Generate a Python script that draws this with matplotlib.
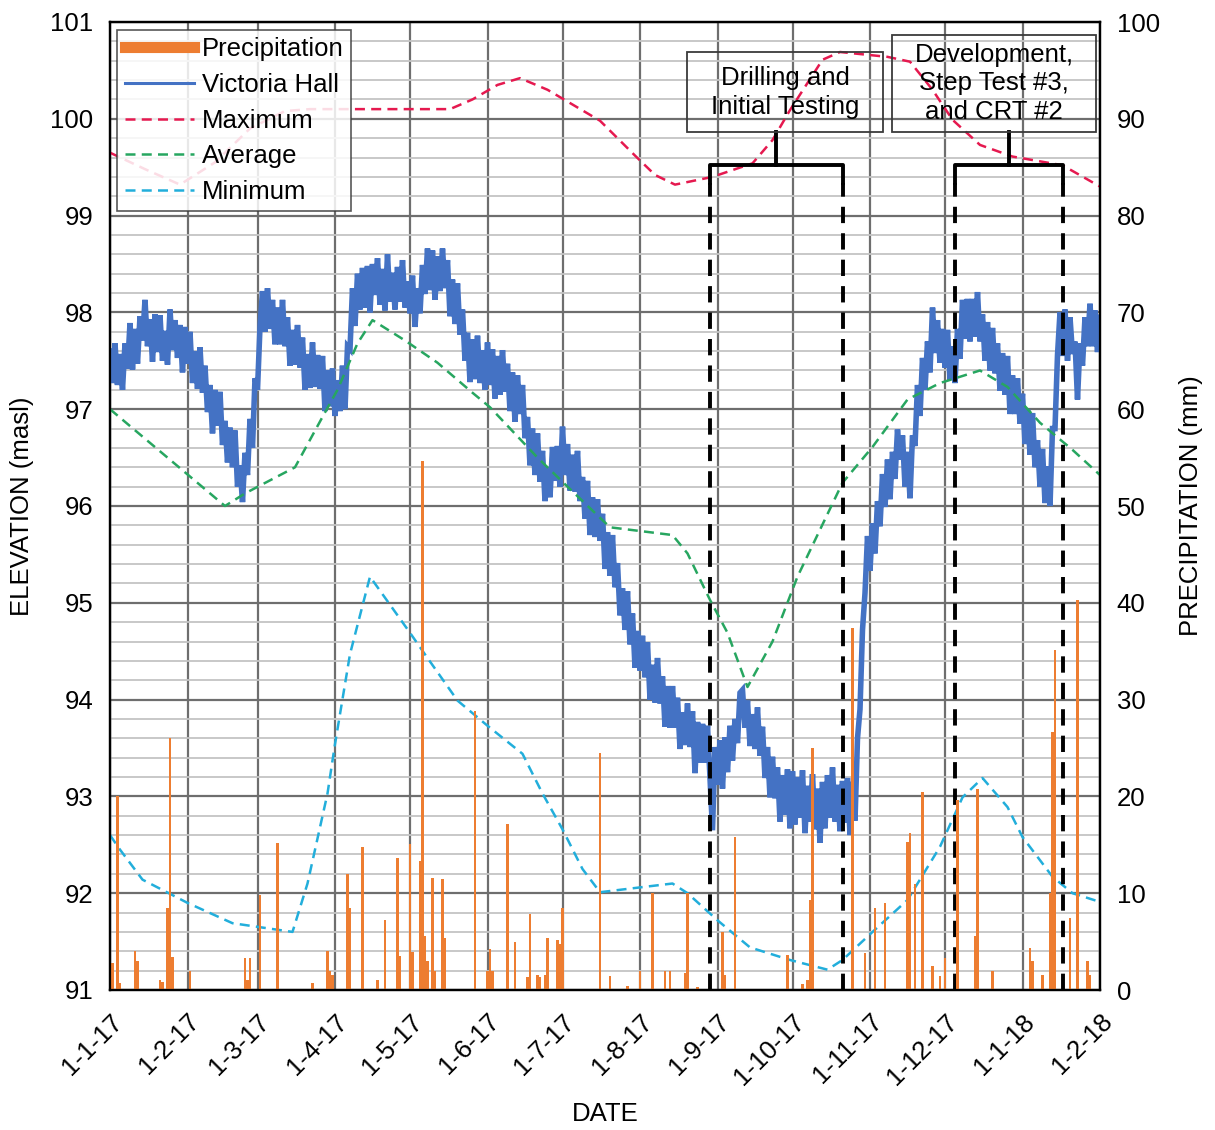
import datetime as dt

import matplotlib
matplotlib.use("Agg")
import matplotlib.pyplot as plt
import matplotlib.dates as mdates
import pandas as pd
from matplotlib.lines import Line2D
from matplotlib.patches import Rectangle
from matplotlib.ticker import MultipleLocator

plt.rcParams["font.family"] = ["Liberation Sans", "DejaVu Sans"]

# ---------------------------------------------------------------- data
# Victoria Hall groundwater elevation (masl), one value per day from 1 Jan 2017
VH_START = "2017-01-01"
VH_LEVEL = [
    # Jan 2017
    97.60, 97.27, 97.68, 97.25, 97.57, 97.20, 97.68, 97.42, 97.89, 97.41,
    97.83, 97.47, 97.96, 97.71, 98.13, 97.65, 97.93, 97.49, 97.98, 97.59,
    97.97, 97.50, 97.81, 97.46, 98.03, 97.61, 97.92, 97.53, 97.87, 97.38,
    97.85,
    # Feb
    97.47, 97.80, 97.27, 97.60, 97.21, 97.64, 97.17, 97.45, 96.97, 97.25,
    96.75, 97.20, 96.83, 97.18, 96.63, 96.88, 96.45, 96.81, 96.40, 96.78,
    96.20, 96.42, 96.04, 96.55, 96.32, 96.90, 96.60, 97.32,
    # Mar
    97.20, 97.85, 98.22, 97.80, 98.25, 97.83, 98.13, 97.67, 98.05, 97.67,
    98.13, 97.65, 97.95, 97.45, 97.82, 97.46, 97.87, 97.43, 97.74, 97.20,
    97.57, 97.22, 97.69, 97.23, 97.56, 97.21, 97.55, 96.98, 97.40, 97.03,
    97.42,
    # Apr
    96.93, 97.30, 96.98, 97.45, 97.00, 97.65, 97.62, 98.25, 97.86, 98.40,
    98.03, 98.46, 98.05, 98.48, 98.00, 98.50, 98.18, 98.56, 98.08, 98.45,
    98.02, 98.60, 98.11, 98.41, 98.03, 98.47, 98.11, 98.54, 98.05, 98.32,
    # May
    97.99, 98.38, 97.85, 98.25, 97.99, 98.49, 98.19, 98.66, 98.23, 98.64,
    98.13, 98.58, 98.22, 98.66, 98.25, 98.54, 97.96, 98.34, 97.88, 98.30,
    97.77, 98.03, 97.50, 97.79, 97.28, 97.72, 97.31, 97.76, 97.27, 97.61,
    97.20,
    # Jun
    97.69, 97.25, 97.62, 97.11, 97.55, 97.15, 97.61, 97.18, 97.47, 96.98,
    97.38, 96.87, 97.35, 96.95, 97.25, 96.70, 96.92, 96.42, 96.80, 96.32,
    96.75, 96.25, 96.57, 96.05, 96.40, 96.09, 96.61, 96.26, 96.62, 96.20,
    # Jul
    96.82, 96.32, 96.64, 96.16, 96.53, 96.15, 96.57, 96.05, 96.30, 95.87,
    96.26, 95.70, 96.09, 95.68, 96.07, 95.64, 95.92, 95.35, 95.73, 95.28,
    95.70, 95.16, 95.41, 94.87, 95.15, 94.72, 95.12, 94.57, 94.89, 94.33,
    94.71,
    # Aug
    94.30, 94.66, 94.23, 94.59, 94.00, 94.36, 93.97, 94.43, 93.96, 94.24,
    93.72, 94.14, 93.71, 94.14, 93.71, 94.02, 93.49, 93.87, 93.53, 93.96,
    93.51, 93.88, 93.24, 93.77, 93.35, 93.75, 93.35, 93.73, 93.20, 92.65,
    93.51,
    # Sep
    93.12, 93.58, 93.08, 93.61, 93.25, 93.73, 93.37, 93.80, 93.55, 94.07,
    94.10, 93.71, 93.99, 93.52, 93.85, 93.49, 93.92, 93.42, 93.72, 93.19,
    93.51, 92.99, 93.41, 92.98, 93.30, 92.74, 93.22, 92.81, 93.28, 92.67,
    # Oct
    93.26, 92.71, 93.20, 92.78, 93.27, 92.62, 93.11, 92.74, 93.23, 92.66,
    93.08, 92.52, 93.15, 92.67, 93.22, 92.78, 93.30, 92.74, 93.12, 92.64,
    93.16, 92.73, 93.19, 92.60, 93.15, 92.75, 93.60, 93.90, 94.72, 95.10,
    95.69,
    # Nov
    95.33, 95.82, 95.51, 96.05, 95.79, 96.33, 95.99, 96.48, 96.07, 96.56,
    96.28, 96.79, 96.48, 96.73, 96.20, 96.56, 96.08, 96.73, 96.62, 97.25,
    96.93, 97.53, 97.20, 97.70, 97.38, 98.05, 97.58, 97.92, 97.48, 97.83,
    # Dec
    97.43, 97.82, 97.30, 97.65, 97.27, 97.83, 97.52, 98.13, 97.73, 98.14,
    97.70, 98.14, 97.75, 98.21, 97.70, 97.98, 97.50, 97.90, 97.40, 97.84,
    97.37, 97.68, 97.19, 97.58, 97.15, 97.55, 96.95, 97.35, 96.95, 97.32,
    96.85,
    # Jan 2018 + 1 Feb 2018
    97.16, 96.64, 97.00, 96.53, 96.96, 96.40, 96.68, 96.20, 96.59, 96.03,
    96.41, 96.00, 96.80, 96.80, 97.56, 98.00, 97.55, 98.03, 97.50, 97.95,
    97.57, 97.70, 97.10, 97.68, 97.45, 97.95, 97.65, 98.09, 97.65, 98.02,
    97.59, 97.95,
]

# Historical statistics of the monitoring record (masl)
MAX_DATES = ["2017-01-01", "2017-01-15", "2017-01-29", "2017-02-12", "2017-02-26",
             "2017-03-12", "2017-03-22", "2017-05-17", "2017-05-26", "2017-06-05",
             "2017-06-14", "2017-06-25", "2017-07-16", "2017-07-30", "2017-08-07",
             "2017-08-15", "2017-08-30", "2017-09-15", "2017-09-23", "2017-09-30",
             "2017-10-07", "2017-10-13", "2017-10-20", "2017-11-08", "2017-11-17",
             "2017-11-26", "2017-12-04", "2017-12-15", "2017-12-28", "2018-01-17",
             "2018-02-01"]
MAX_LEVEL = [99.65, 99.48, 99.32, 99.55, 99.90, 100.08, 100.10, 100.10, 100.20, 100.35,
             100.42, 100.30, 99.98, 99.62, 99.42, 99.32, 99.40, 99.54, 99.78, 100.09,
             100.37, 100.61, 100.69, 100.64, 100.59, 100.30, 99.99, 99.73, 99.61, 99.52,
             99.30]

AVG_DATES = ["2017-01-01", "2017-02-16", "2017-02-24", "2017-03-16", "2017-03-27",
             "2017-04-02", "2017-04-10", "2017-04-16", "2017-04-29", "2017-05-12",
             "2017-05-26", "2017-06-02", "2017-06-21", "2017-07-03", "2017-07-20",
             "2017-08-14", "2017-08-20", "2017-08-29", "2017-09-05", "2017-09-13",
             "2017-09-23", "2017-10-03", "2017-10-21", "2017-11-02", "2017-11-16",
             "2017-11-29", "2017-12-15", "2017-12-26", "2018-01-08", "2018-01-21",
             "2018-02-01"]
AVG_LEVEL = [97.00, 96.00, 96.13, 96.40, 96.92, 97.20, 97.68, 97.92, 97.71, 97.48,
             97.17, 97.02, 96.50, 96.20, 95.78, 95.70, 95.51, 95.03, 94.69, 94.13,
             94.60, 95.27, 96.24, 96.61, 97.10, 97.27, 97.40, 97.23, 96.86, 96.58,
             96.32]

MIN_DATES = ["2017-01-01", "2017-01-05", "2017-01-14", "2017-02-01", "2017-02-19",
             "2017-03-15", "2017-03-21", "2017-03-29", "2017-04-01", "2017-04-07",
             "2017-04-15", "2017-05-01", "2017-05-08", "2017-05-20", "2017-06-01",
             "2017-06-15", "2017-06-23", "2017-07-01", "2017-07-09", "2017-07-16",
             "2017-08-01", "2017-08-14", "2017-08-20", "2017-09-01", "2017-09-14",
             "2017-09-30", "2017-10-15", "2017-10-21", "2017-11-02", "2017-11-16",
             "2017-11-29", "2017-12-08", "2017-12-16", "2017-12-26", "2018-01-01",
             "2018-01-13", "2018-01-21", "2018-02-01"]
MIN_LEVEL = [92.60, 92.45, 92.14, 91.90, 91.69, 91.60, 92.10, 93.03, 93.54, 94.47,
             95.27, 94.69, 94.43, 93.99, 93.73, 93.44, 93.03, 92.66, 92.25, 92.01,
             92.06, 92.10, 92.00, 91.72, 91.44, 91.31, 91.21, 91.31, 91.60, 91.93,
             92.48, 92.99, 93.19, 92.89, 92.58, 92.17, 92.00, 91.91]

# Daily precipitation (mm); days without rain are omitted
RAIN_DATES = ["2017-01-02", "2017-01-04", "2017-01-05", "2017-01-11", "2017-01-12",
              "2017-01-21", "2017-01-22", "2017-01-24", "2017-01-25", "2017-01-26",
              "2017-02-02", "2017-02-24", "2017-02-25", "2017-02-26", "2017-03-02",
              "2017-03-09", "2017-03-23", "2017-03-29", "2017-03-30", "2017-03-31",
              "2017-04-06", "2017-04-07", "2017-04-12", "2017-04-18", "2017-04-21",
              "2017-04-26", "2017-04-27", "2017-05-01", "2017-05-02", "2017-05-05",
              "2017-05-06", "2017-05-07", "2017-05-08", "2017-05-10", "2017-05-11",
              "2017-05-14", "2017-05-15", "2017-05-27", "2017-06-01", "2017-06-02",
              "2017-06-03", "2017-06-09", "2017-06-12", "2017-06-17", "2017-06-18",
              "2017-06-21", "2017-06-22", "2017-06-24", "2017-06-25", "2017-06-29",
              "2017-06-30", "2017-07-01", "2017-07-16", "2017-07-20", "2017-07-27",
              "2017-08-01", "2017-08-06", "2017-08-11", "2017-08-13", "2017-08-19",
              "2017-08-20", "2017-08-24", "2017-09-03", "2017-09-04", "2017-09-08",
              "2017-09-29", "2017-10-05", "2017-10-07", "2017-10-08", "2017-10-09",
              "2017-10-25", "2017-10-30", "2017-11-03", "2017-11-07", "2017-11-16",
              "2017-11-17", "2017-11-19", "2017-11-22", "2017-11-26", "2017-11-29",
              "2017-12-01", "2017-12-06", "2017-12-13", "2017-12-14", "2017-12-20",
              "2018-01-04", "2018-01-05", "2018-01-09", "2018-01-12", "2018-01-13",
              "2018-01-14", "2018-01-20", "2018-01-23", "2018-01-27", "2018-01-28"]
RAIN_MM = [2.8, 20.0, 0.7, 4.0, 3.0,
           1.0, 0.8, 8.5, 26.0, 3.4,
           2.0, 3.3, 1.0, 3.3, 9.8,
           15.2, 0.7, 4.0, 2.0, 1.5,
           12.0, 8.5, 14.8, 1.0, 7.2,
           13.6, 3.5, 15.1, 3.9, 13.3,
           54.6, 5.6, 3.0, 11.6, 2.0,
           11.5, 5.4, 28.8, 2.0, 4.2,
           2.0, 17.1, 5.0, 1.3, 7.9,
           1.5, 1.3, 1.6, 5.4, 5.2,
           4.8, 8.5, 24.5, 1.4, 0.4,
           2.0, 10.0, 2.0, 2.0, 1.8,
           10.0, 0.3, 6.0, 1.5, 15.8,
           3.6, 0.6, 1.0, 9.3, 25.0,
           37.4, 3.8, 8.5, 9.0, 15.3,
           16.2, 11.0, 20.5, 2.5, 1.4,
           3.3, 19.6, 5.6, 20.8, 2.0,
           4.3, 3.0, 1.6, 10.0, 26.7,
           35.1, 7.4, 40.3, 3.0, 1.6]

# Field activity periods (start, end) and their captions
PERIODS = [("2017-08-29", "2017-10-21"), ("2017-12-05", "2018-01-17")]
PERIOD_LABELS = ["Drilling and\nInitial Testing", "Development,\nStep Test #3,\nand CRT #2"]

TICK_DATES = pd.date_range("2017-01-01", "2018-02-01", freq="MS")
TICK_LABELS = ["1-1-17", "1-2-17", "1-3-17", "1-4-17", "1-5-17", "1-6-17", "1-7-17",
               "1-8-17", "1-9-17", "1-10-17", "1-11-17", "1-12-17", "1-1-18", "1-2-18"]

# ---------------------------------------------------------------- styles
C_RAIN = "#ED7D31"
C_VH = "#4472C4"
C_MAX = "#E5194F"
C_AVG = "#27A660"
C_MIN = "#22AEDB"
FS = 18.5

fig = plt.figure(figsize=(12.15, 11.3), dpi=100)
ax = fig.add_axes([110 / 1215, 1 - 990 / 1130, 990 / 1215, 968 / 1130])
ax2 = ax.twinx()

x0 = pd.Timestamp("2017-01-01")
x1 = pd.Timestamp("2018-02-01")

# grid on the elevation axis
ax.set_ylim(91, 101)
ax.yaxis.set_major_locator(MultipleLocator(1))
ax.yaxis.set_minor_locator(MultipleLocator(0.2))
ax.grid(which="major", axis="y", color="#6e6e6e", lw=1.6)
ax.grid(which="minor", axis="y", color="#c4c4c4", lw=1.3)
ax.grid(which="major", axis="x", color="#6e6e6e", lw=1.6)
ax.set_axisbelow(True)

# groundwater level and statistics
vh_dates = pd.date_range(VH_START, periods=len(VH_LEVEL), freq="D")
ax.plot(vh_dates, VH_LEVEL, color=C_VH, lw=4.0, solid_joinstyle="miter", zorder=3)
ax.plot(pd.to_datetime(MAX_DATES), MAX_LEVEL, color=C_MAX, lw=1.8, dashes=(4, 2.5), zorder=4)
ax.plot(pd.to_datetime(AVG_DATES), AVG_LEVEL, color=C_AVG, lw=1.8, dashes=(4, 2.5), zorder=4)
ax.plot(pd.to_datetime(MIN_DATES), MIN_LEVEL, color=C_MIN, lw=1.8, dashes=(4, 2.5), zorder=4)

# precipitation on the secondary axis
ax2.bar(pd.to_datetime(RAIN_DATES), RAIN_MM, width=0.9, color=C_RAIN, lw=0, zorder=2)
ax2.set_ylim(0, 100)
ax2.yaxis.set_major_locator(MultipleLocator(10))

ax.set_xlim(x0, x1)
ax.set_xticks(TICK_DATES)
ax.set_xticklabels(TICK_LABELS, rotation=45, ha="right", va="top",
                   rotation_mode="anchor", fontsize=FS)
ax.tick_params(axis="x", length=0, pad=14)
ax.tick_params(axis="y", which="both", length=0, pad=12, labelsize=FS)
ax2.tick_params(axis="y", which="both", length=0, pad=12, labelsize=FS)

ax.set_ylabel("ELEVATION (masl)", fontsize=18.5, labelpad=12)
ax2.set_ylabel("PRECIPITATION (mm)", fontsize=18.5, labelpad=14)
ax.set_xlabel("DATE", fontsize=18.5, labelpad=9)

for sp in list(ax.spines.values()) + list(ax2.spines.values()):
    sp.set_color("black")
    sp.set_linewidth(1.6)

# field activity periods: dashed limits, brackets and caption boxes
to_num = lambda s: mdates.date2num(pd.Timestamp(s))
box_specs = [
    # (left, right, bottom, top) in days after 1 Jan 2017 / masl
    (230.8, 309.2, 99.86, 100.69),
    (312.8, 394.4, 99.86, 100.87),
]
for (start, end), label, (bl, br, bb, bt) in zip(PERIODS, PERIOD_LABELS, box_specs):
    xs, xe = to_num(start), to_num(end)
    for xv in (xs, xe):
        ax.plot([xv, xv], [91.0, 99.34], color="black", lw=2.8, dashes=(4.2, 2.6),
                solid_capstyle="butt", zorder=6)
    xm = 0.5 * (xs + xe)
    ax.plot([xs, xs, xe, xe], [99.34, 99.52, 99.52, 99.34], color="black", lw=2.8,
            solid_joinstyle="round", zorder=6)
    ax.plot([xm, xm], [99.52, bb], color="black", lw=2.8, zorder=6)
    base = to_num("2017-01-01")
    ax.add_patch(Rectangle((base + bl, bb), br - bl, bt - bb, fill=False,
                           ec="#3a3a3a", lw=1.3, zorder=6))
    ax.text(base + 0.5 * (bl + br), 0.5 * (bb + bt), label, ha="center", va="center",
            fontsize=FS, linespacing=1.25, zorder=7)

# legend
handles = [
    Line2D([], [], color=C_RAIN, lw=8),
    Line2D([], [], color=C_VH, lw=2.2),
    Line2D([], [], color=C_MAX, lw=1.8, dashes=(4, 2.5)),
    Line2D([], [], color=C_AVG, lw=1.8, dashes=(4, 2.5)),
    Line2D([], [], color=C_MIN, lw=1.8, dashes=(4, 2.5)),
]
labels = ["Precipitation", "Victoria Hall", "Maximum", "Average", "Minimum"]
leg = ax2.legend(handles, labels, loc="upper left", bbox_to_anchor=(0.007, 0.992),
                 borderaxespad=0, fontsize=FS, frameon=True, fancybox=False,
                 edgecolor="#3a3a3a", framealpha=0.85, handlelength=2.7,
                 handletextpad=0.3, labelspacing=0.45, borderpad=0.3)
leg.get_frame().set_linewidth(1.2)
leg.set_zorder(10)

fig.savefig("out.png", dpi=100)
